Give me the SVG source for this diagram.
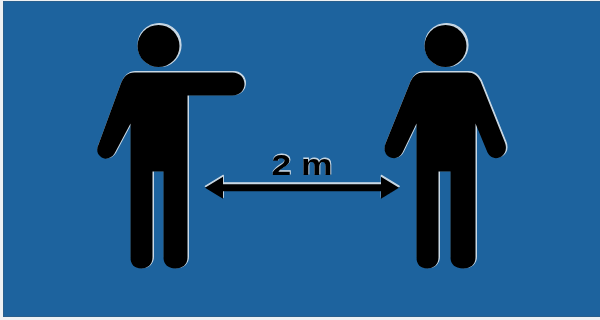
<svg xmlns="http://www.w3.org/2000/svg" width="600" height="320" viewBox="0 0 600 320">
<style>
.halo{fill:#c9d8e4;stroke:#c9d8e4;stroke-width:1.2;stroke-linejoin:round}
.ink{fill:#000}
.label{font-family:"Liberation Sans",Arial,sans-serif;font-weight:700;font-size:29px}
</style>
<defs>
<filter id="soft" x="-5%" y="-5%" width="110%" height="110%"><feGaussianBlur stdDeviation="0.7"/></filter>
<path id="p1" d="M135 72H233C240 72 245 77 245 83.500C245 90 240 95 233 95H188V257C188 264 183 268 176 268C169 268 164 264 164 257V171H153V257C153 264 148 268 142 268C135 268 131 264 131 257V123L115 153C112 158 105 160 101 156C97 153 97 148 99 144L121 84C124 76 128 72 135 72Z"/>
<path id="p2" d="M424 72H468C474 72 478 75 481 81L505 141C508 148 506 153 502 156C497 159 491 158 488 152L476 123V257C476 264 471 268 464 268C456 268 451 264 451 257V171H439V257C439 264 434 268 428 268C421 268 417 264 417 257V123L403 152C400 158 394 159 389 156C385 153 384 148 386 143L411 81C414 75 418 72 424 72Z"/>
<path id="arrowShape" d="M205 187L223 176V183.500H381V176L399 187L381 198V190.500H223V198Z"/>
</defs>
<rect width="600" height="320" fill="#eef1f3"/>
<rect x="3" y="1" width="597" height="316" fill="#1d639e"/>
<rect x="3.500" y="1.500" width="597" height="315" fill="none" stroke="#2a5f8c" stroke-width="1"/>
<g id="person-left" filter="url(#soft)">
<circle class="halo" cx="159.500" cy="45" r="21.500"/>
<circle class="ink" cx="158.500" cy="46" r="21"/>
<use href="#p1" class="halo" x="0.400" y="-0.400"/>
<use href="#p1" class="ink" x="-0.500" y="0.500"/>
</g>
<g id="person-right" filter="url(#soft)">
<circle class="halo" cx="446.500" cy="45" r="21.500"/>
<circle class="ink" cx="445.500" cy="46" r="21"/>
<use href="#p2" class="halo" x="0.400" y="-0.400"/>
<use href="#p2" class="ink" x="-0.500" y="0.500"/>
</g>
<g id="connectors" filter="url(#soft)">
<use href="#arrowShape" class="halo" x="0.300" y="-0.700"/>
<use href="#arrowShape" class="ink" y="0.700"/>
</g>
<g id="distance-label" filter="url(#soft)">
<text class="label" x="302.500" y="174" text-anchor="middle" textLength="61" lengthAdjust="spacingAndGlyphs" fill="#c9d8e4" stroke="#c9d8e4" stroke-width="0.8">2 m</text>
<text class="label" x="302" y="174.500" text-anchor="middle" textLength="61" lengthAdjust="spacingAndGlyphs" fill="#000">2 m</text>
</g>
</svg>
